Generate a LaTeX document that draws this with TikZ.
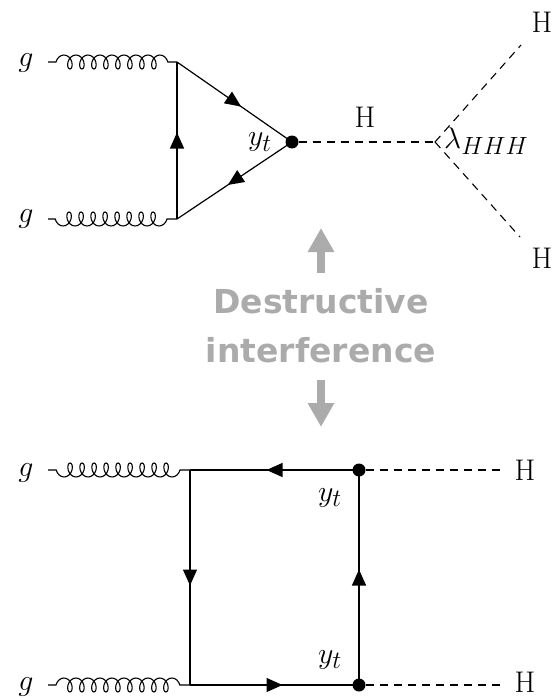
\documentclass[tikz,border=0pt]{standalone}
\usepackage{fontspec}
\newfontfamily\grayfont{DejaVu Sans}
\usetikzlibrary{decorations.pathmorphing,decorations.markings,arrows.meta}
\definecolor{arrowgray}{HTML}{ABABAB}
\tikzset{
  fermion/.style={line width=1.2pt, postaction={decorate},
    decoration={markings, mark=at position 0.5 with {\arrow[xshift=8pt]{Triangle[length=16pt,width=14pt]}}}},
  scalar/.style={line width=1.1pt, dash pattern=on 8pt off 6pt},
  gluon/.style={line width=1.1pt, decorate,
    decoration={coil, amplitude=7pt, segment length=12pt, aspect=0.7, pre length=8pt, post length=4pt}},
  gluonR/.style={line width=1.1pt, decorate,
    decoration={coil, amplitude=7pt, segment length=12pt, aspect=0.7, pre length=10pt, post length=1pt}},
  vdot/.style={circle, fill=black, inner sep=0pt, minimum size=13pt},
  lbl/.style={font=\Huge, scale=1.2, transform shape, inner sep=0pt, anchor=base},
  bigarrow/.style={arrowgray, line width=8pt, -{Triangle[length=24pt,width=25pt]}},
  graytext/.style={text=arrowgray, font=\grayfont\bfseries\fontsize{33}{49}\selectfont, align=center, inner sep=0pt}
}
\begin{document}
\begin{tikzpicture}[x=1pt,y=-1pt]
\useasboundingbox (0,0) rectangle (557,698);
% ---- top diagram (triangle) ----
\coordinate (gA1) at (48,62);
\coordinate (gA2) at (48,219);
\coordinate (tA) at (177,62);
\coordinate (tB) at (177,219);
\node[vdot] (tC) at (292,142) {};
\coordinate (hv) at (435,142);
\coordinate (h1) at (521,45);
\coordinate (h2) at (520,237);
\draw[gluon] (gA1) -- (tA);
\draw[gluonR] (tB) -- (gA2);
\draw[fermion] (tB) -- (tA);
\draw[fermion] (tA) -- (tC.center);
\draw[fermion] (tC.center) -- (tB);
\draw[scalar] (tC) -- (hv);
\draw[scalar] (hv) -- (h1);
\draw[scalar] (hv) -- (h2);
\node[lbl] (lg1) at (26,67) {$g$};
\node[lbl] (lg2) at (26,222) {$g$};
\node[lbl] (lyt) at (260,146) {$y_t$};
\node[lbl] (lH0) at (365,128) {H};
\node[lbl, anchor=base west] (llam) at (444,148) {$\lambda_{HHH}$};
\node[lbl] (lH1) at (542,33) {H};
\node[lbl] (lH2) at (542,268) {H};
% ---- middle ----
\node[graytext, anchor=base] (txt) at (321,362) {Destructive\\interference};
\coordinate (upTip) at (321,228);
\coordinate (upBase) at (321,273);
\coordinate (dnTip) at (321,427);
\coordinate (dnBase) at (321,380);
\draw[bigarrow] (upBase) -- (upTip);
\draw[bigarrow] (dnBase) -- (dnTip);
% ---- bottom diagram (box) ----
\coordinate (gB1) at (48,470);
\coordinate (gB2) at (48,685);
\coordinate (bA) at (190,470);
\coordinate (bB) at (190,685);
\node[vdot] (bC) at (359,470) {};
\node[vdot] (bD) at (359,685) {};
\coordinate (hB1) at (500,470);
\coordinate (hB2) at (500,685);
\draw[gluonR] (bA) -- (gB1);
\draw[gluon] (gB2) -- (bB);
\draw[fermion] (bC.center) -- (bA);
\draw[fermion] (bA) -- (bB);
\draw[fermion] (bB) -- (bD.center);
\draw[fermion] (bD.center) -- (bC.center);
\draw[scalar] (bC) -- (hB1);
\draw[scalar] (bD) -- (hB2);
\node[lbl] (lg3) at (26,476) {$g$};
\node[lbl] (lg4) at (26,690) {$g$};
\node[lbl] (lyt1) at (330,501) {$y_t$};
\node[lbl] (lyt2) at (330,663) {$y_t$};
\node[lbl] (lH3) at (525,480) {H};
\node[lbl] (lH4) at (525,692) {H};
\end{tikzpicture}
\end{document}
